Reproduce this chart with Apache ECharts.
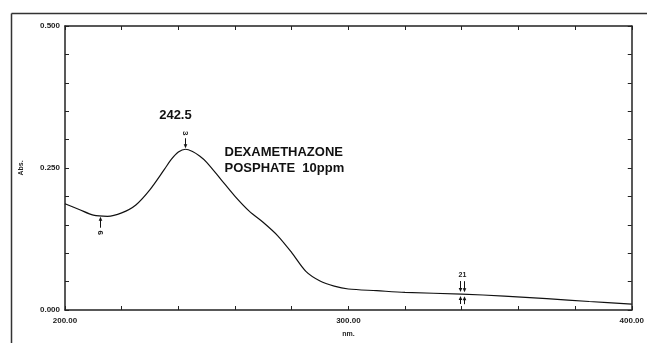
<!DOCTYPE html>
<html>
<head>
<meta charset="utf-8">
<script src="https://cdn.jsdelivr.net/npm/echarts@6/dist/echarts.min.js"></script>
<style>
html,body{margin:0;padding:0;background:#fff;}
#c{width:647px;height:343px;}
</style>
</head>
<body>
<div id="c"></div>
<script>
var wavelengths = [200,205,210,215,220,225,230,235,237.5,240,242.5,245,247.5,250,255,260,265,270,275,280,285,290,295,300,310,320,340,355,370,385,400];
var absorbance = [0.187,0.177,0.167,0.165,0.171,0.185,0.212,0.247,0.265,0.278,0.283,0.279,0.271,0.260,0.230,0.200,0.174,0.154,0.131,0.101,0.068,0.051,0.042,0.037,0.034,0.031,0.028,0.0245,0.020,0.015,0.0105];
var xTickLabels = [200, 300, 400];
var yTickLabels = [0, 0.25, 0.5];
var peakLabels = [
  {name:'3', nm:242.5, side:'above'},
  {name:'6', nm:212.5, side:'below'},
  {name:'2', nm:339.3, side:'both'},
  {name:'1', nm:340.7, side:'both'}
];
var peakValueText = '242.5';
var titleLines = ['DEXAMETHAZONE', 'POSPHATE  10ppm'];

var data = wavelengths.map(function(w,i){return [w, absorbance[i]];});
function near(v, arr){ for (var i=0;i<arr.length;i++){ if (Math.abs(v-arr[i])<1e-9) return true;} return false; }

var axisCol = '#222';
var chart = echarts.init(document.getElementById('c'), null, {renderer:'canvas'});
var baseX = {
  type:'value', min:200, max:400, interval:20,
  axisLine:{show:true, onZero:false, lineStyle:{color:axisCol, width:1.5}},
  axisTick:{show:true, inside:true, length:4, lineStyle:{color:axisCol, width:1}},
  splitLine:{show:false}
};
var baseY = {
  type:'value', min:0, max:0.5, interval:0.05,
  axisLine:{show:true, onZero:false, lineStyle:{color:axisCol, width:1.5}},
  axisTick:{show:true, inside:true, length:4, lineStyle:{color:axisCol, width:1}},
  splitLine:{show:false}
};
var opt = {
  animation:false,
  backgroundColor:'#fff',
  grid:{left:65, right:13, top:26, bottom:31},
  xAxis:[
    Object.assign({}, baseX, {position:'bottom',
      name:'nm.', nameLocation:'middle', nameGap:21,
      nameTextStyle:{fontFamily:'Liberation Sans', fontSize:7, fontWeight:'bold', color:'#222'},
      axisLabel:{show:true, margin:7, fontFamily:'Liberation Sans', fontSize:8, fontWeight:'bold', color:'#222',
        formatter:function(v){return near(v,xTickLabels)? v.toFixed(2):'';}}}),
    Object.assign({}, baseX, {position:'top', axisLabel:{show:false}})
  ],
  yAxis:[
    Object.assign({}, baseY, {position:'left',
      name:'Abs.', nameLocation:'middle', nameGap:40, nameRotate:90,
      nameTextStyle:{fontFamily:'Liberation Sans', fontSize:7, fontWeight:'bold', color:'#222'},
      axisLabel:{show:true, margin:5, fontFamily:'Liberation Sans', fontSize:8, fontWeight:'bold', color:'#222',
        formatter:function(v){return near(v,yTickLabels)? v.toFixed(3):'';}}}),
    Object.assign({}, baseY, {position:'right', axisLabel:{show:false}})
  ],
  series:[{
    type:'line', data:data, xAxisIndex:0, yAxisIndex:0,
    smooth:0.3, showSymbol:false, symbol:'none',
    lineStyle:{color:'#111', width:1.2}
  }]
};
chart.setOption(opt);

function interpA(nm){
  for (var i=0;i<wavelengths.length-1;i++){
    if (nm>=wavelengths[i] && nm<=wavelengths[i+1]){
      var t=(nm-wavelengths[i])/(wavelengths[i+1]-wavelengths[i]);
      return absorbance[i]+t*(absorbance[i+1]-absorbance[i]);
    }
  }
  return absorbance[absorbance.length-1];
}
var g = [];
function arrow(x, y1, y2){
  var dir = y2>y1?1:-1;
  g.push({type:'line', shape:{x1:x,y1:y1,x2:x,y2:y2-dir*3}, style:{stroke:'#111', lineWidth:1}});
  g.push({type:'polygon', shape:{points:[[x-1.8,y2-dir*4],[x+1.8,y2-dir*4],[x,y2]]}, style:{fill:'#111'}});
}
var lbl = {fontFamily:'Liberation Sans', fontSize:8, fontWeight:'bold', fill:'#222'};
peakLabels.forEach(function(p){
  var pt = chart.convertToPixel({gridIndex:0}, [p.nm, interpA(p.nm)]);
  var x = Math.round(pt[0])+0.5, y = pt[1];
  if (p.side==='above'){
    arrow(x, y-11, y-1);
    g.push({type:'text', x:x, y:y-16, rotation:-Math.PI/2, style:Object.assign({text:p.name, align:'center', verticalAlign:'middle'}, lbl)});
  } else if (p.side==='below'){
    arrow(x, y+12, y+1);
    g.push({type:'text', x:x, y:y+17, rotation:-Math.PI/2, style:Object.assign({text:p.name, align:'center', verticalAlign:'middle'}, lbl)});
  } else {
    arrow(x, y-13, y-2);
    arrow(x, y+10, y+2);
    g.push({type:'text', x:x, y:y-19, style:Object.assign({text:p.name, align:'center', verticalAlign:'middle'}, lbl, {fontSize:7})});
  }
});
var pk = chart.convertToPixel({gridIndex:0}, [242.5, interpA(242.5)]);
g.push({type:'text', x:pk[0]-10, y:pk[1]-34, style:{text:peakValueText, align:'center', verticalAlign:'middle', fontFamily:'Liberation Sans', fontSize:13, fontWeight:'bold', fill:'#111'}});
var tp = chart.convertToPixel({gridIndex:0}, [257, 0.3]);
g.push({type:'text', x:tp[0]-2, y:tp[1]+21, style:{text:titleLines.join('\n'), align:'left', verticalAlign:'middle', lineHeight:16, fontFamily:'Liberation Sans', fontSize:13, fontWeight:'bold', fill:'#111'}});
g.push({type:'line', shape:{x1:11.5,y1:13.5,x2:647,y2:13.5}, style:{stroke:'#333', lineWidth:1.5}});
g.push({type:'line', shape:{x1:11.5,y1:13.5,x2:11.5,y2:343}, style:{stroke:'#333', lineWidth:1.5}});
chart.setOption({graphic:g});
</script>
</body>
</html>
